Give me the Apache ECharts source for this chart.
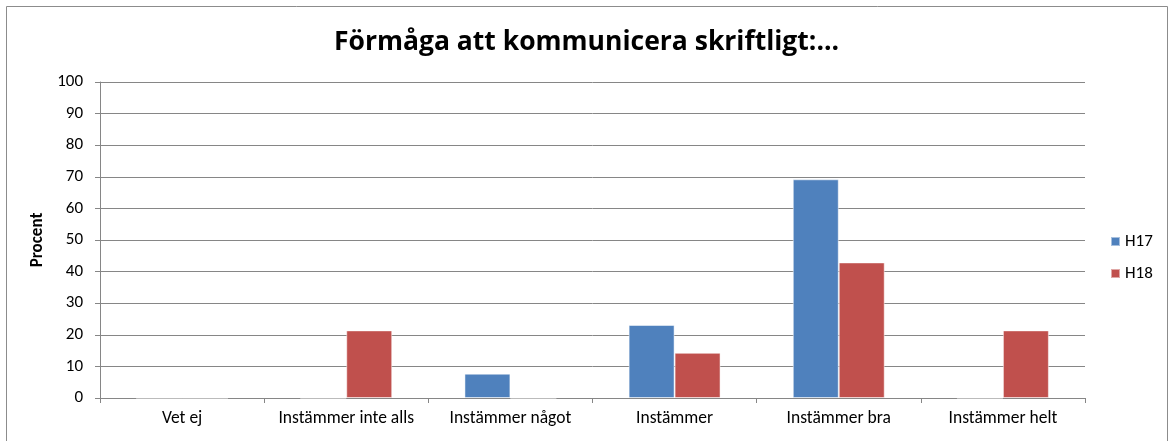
<!DOCTYPE html>
<html>
<head>
<meta charset="utf-8">
<script src="https://cdn.jsdelivr.net/npm/echarts@6/dist/echarts.min.js"></script>
<style>
  html, body { margin: 0; padding: 0; background: #fff; }
  #main { width: 1173px; height: 441px; }
</style>
</head>
<body>
<div id="main"></div>
<script>
// 数据
var categories = ['Vet ej', 'Instämmer inte alls', 'Instämmer något', 'Instämmer', 'Instämmer bra', 'Instämmer helt'];
var h17 = [0, 0, 7.7, 23.1, 69.2, 0];
var h18 = [0, 21.4, 0, 14.3, 42.9, 21.4];
var seriesNames = ['H17', 'H18'];

var font = 'Carlito, Lato, "Noto Sans", sans-serif';

var myChart = echarts.init(document.getElementById('main'));

option = {
    animation: false,
    color: ['#4F81BD', '#C0504D'],
    textStyle: { fontFamily: font },
    graphic: [{
        type: 'rect',
        shape: { x: 6.5, y: 6.5, width: 1161, height: 445 },
        style: { fill: 'none', stroke: '#8c8c8c', lineWidth: 1 },
        silent: true
    }],
    title: {
        text: 'Förmåga att kommunicera skriftligt:...',
        left: 'center',
        top: 24,
        textStyle: { fontFamily: '"Open Sans", sans-serif', fontSize: 26.5, fontWeight: 'bold', color: '#000' }
    },
    legend: {
        orient: 'vertical',
        left: 1105,
        top: 228,
        itemWidth: 9,
        itemHeight: 9,
        itemGap: 15,
        icon: 'rect',
        textStyle: { fontFamily: font, fontSize: 17, color: '#000' },
        data: seriesNames
    },
    grid: {
        left: 100,
        right: 88,
        top: 82,
        bottom: 43
    },
    xAxis: {
        type: 'category',
        data: categories,
        axisLine: { lineStyle: { color: '#868686' } },
        axisTick: { show: true, length: 5, lineStyle: { color: '#868686' } },
        axisLabel: { color: '#000', fontSize: 17.5, fontFamily: font, margin: 12, interval: 0 }
    },
    yAxis: {
        type: 'value',
        min: 0,
        max: 100,
        interval: 10,
        name: 'Procent',
        nameLocation: 'middle',
        nameGap: 52,
        nameTextStyle: { fontFamily: font, fontSize: 17, fontWeight: 'bold', color: '#000' },
        axisLine: { show: true, lineStyle: { color: '#868686' } },
        axisTick: { show: true, length: 5, lineStyle: { color: '#868686' } },
        axisLabel: { color: '#000', fontSize: 17, fontFamily: font, margin: 17 },
        splitLine: { lineStyle: { color: '#868686' } }
    },
    series: [
        {
            name: seriesNames[0],
            type: 'bar',
            barGap: 0,
            barCategoryGap: '44%',
            itemStyle: { borderColor: 'rgba(255,255,255,0.5)', borderWidth: 1 },
            data: h17
        },
        {
            name: seriesNames[1],
            type: 'bar',
            barGap: 0,
            barCategoryGap: '44%',
            itemStyle: { borderColor: 'rgba(255,255,255,0.5)', borderWidth: 1 },
            data: h18
        }
    ]
};

myChart.setOption(option);
</script>
</body>
</html>
